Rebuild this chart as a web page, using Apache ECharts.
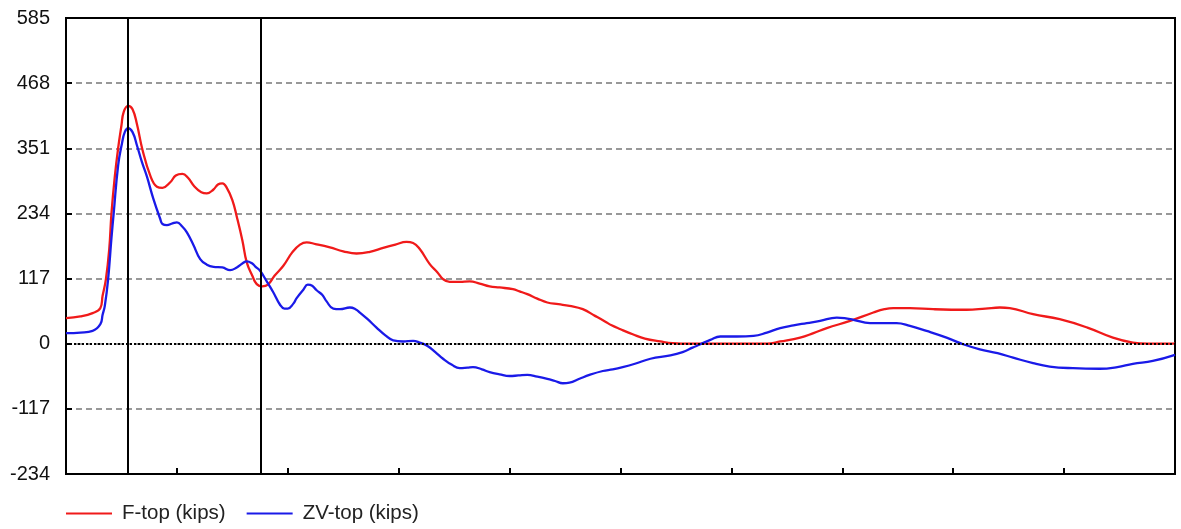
<!DOCTYPE html>
<html>
<head>
<meta charset="utf-8">
<title>F-top / ZV-top</title>
<script src="https://cdn.jsdelivr.net/npm/echarts@6/dist/echarts.min.js"></script>
<style>
  html, body { margin: 0; padding: 0; background: #fff; }
  #chart { width: 1181px; height: 529px; }
</style>
</head>
<body>
<div id="chart"></div>
<script>
// time axis in arbitrary units (0..100), values in kips
var fTime = [0, 1.3, 2.4, 3.1, 3.3, 3.6, 3.9, 4.1, 4.4, 4.7, 5.0, 5.2, 5.6, 6.0, 6.4, 6.9, 7.6, 8.2, 8.7, 9.4, 9.9,
  10.5, 11.0, 11.6, 12.2, 12.7, 13.3, 13.7, 14.1, 14.5, 15.0, 15.4, 15.9, 16.3, 16.8, 17.2, 17.7, 18.2, 18.8, 19.6,
  20.4, 21.1, 21.7, 22.5, 23.8, 25.0, 26.2, 27.4, 28.6, 29.7, 30.7, 31.3, 31.9, 32.8, 33.5, 34.0, 34.6, 35.5, 36.4,
  37.3, 38.2, 39.1, 40.3, 40.9, 41.6, 42.5, 43.4, 44.4, 45.4, 46.6, 47.7, 48.6, 49.2, 50.0, 51.1, 52.2, 53.6, 54.7,
  56.3, 57.8, 59.9, 61.7, 63.2, 64.4, 66.2, 67.4, 68.6, 70.7, 72.8, 73.8, 74.6, 76.1, 78.2, 81.2, 82.9, 84.2, 85.1,
  87.2, 89.6, 92.1, 94.4, 96.2, 97.5, 100];
var fTop = [46, 49, 55, 64, 86, 116, 170, 234, 300, 351, 392, 416, 427, 421, 394, 348, 302, 282, 280, 290, 302,
  305, 298, 282, 272, 270, 277, 286, 288, 280, 258, 228, 186, 146, 122, 107, 103, 106, 122, 140,
  164, 178, 182, 179, 173, 166, 162, 165, 172, 178, 183, 181, 170, 143, 128, 116, 111, 111, 112,
  108, 103, 101, 98, 94, 89, 81, 74, 71, 68, 62, 50, 40, 33, 26, 17, 9, 4, 1,
  0, 0, 0, 0, 0, 4, 11, 19, 28, 41, 56, 62, 64, 64, 62, 61, 63, 65, 64,
  53, 44, 29, 11, 2, 0, 0];

var zvTime = [0, 1.3, 2.4, 3.1, 3.3, 3.5, 3.8, 4.1, 4.3, 4.7, 5.05, 5.3, 5.6, 6.0, 6.4, 6.85, 7.3, 7.85, 8.5, 8.7,
  9.1, 9.6, 10.0, 10.5, 10.9, 11.5, 12.1, 12.7, 13.3, 14.1, 14.8, 15.4, 15.9, 16.3, 16.8, 17.1, 17.5, 18.1, 18.7,
  19.3, 19.7, 20.0, 20.5, 20.8, 21.4, 21.8, 22.2, 22.6, 23.1, 23.5, 24.1, 24.7, 25.6, 26.1, 26.5, 27.2, 28.0, 28.8,
  29.5, 30.4, 31.3, 31.9, 32.6, 33.3, 34.0, 34.8, 35.5, 36.2, 36.7, 37.5, 38.2, 39.1, 40.0, 40.8, 41.6, 42.5, 43.4,
  44.1, 44.8, 45.4, 46.3, 47.2, 48.4, 49.3, 50.2, 51.3, 52.7, 54.5, 55.6, 56.5, 57.2, 58.1, 59.0, 60.5, 62.0, 63.2,
  64.4, 65.6, 66.8, 68.0, 69.5, 70.2, 71.0, 72.5, 74.9, 76.1, 77.6, 79.4, 80.9, 82.4, 84.0, 85.4, 87.2, 88.7, 90.8,
  93.2, 94.8, 96.2, 98.0, 100];
var zvTop = [19, 20, 23, 35, 52, 68, 116, 190, 234, 320, 360, 380, 387, 380, 356, 326, 300, 262, 224, 215,
  213, 216, 218, 210, 200, 177, 152, 142, 138, 137, 132, 137, 144, 148, 144, 138, 131, 112, 92,
  70, 63, 63, 72, 82, 97, 106, 104, 96, 88, 76, 63, 62, 65, 62, 56, 44, 29, 15,
  6, 4, 5, 2, -4, -15, -27, -38, -44, -43, -42, -46, -51, -55, -58, -57, -56, -59, -63,
  -67, -71, -70, -63, -56, -49, -46, -42, -36, -27, -21, -15, -7, -1, 7, 13, 13, 14, 20,
  28, 33, 37, 41, 47, 46, 43, 37, 37, 32, 23, 11, -1, -10, -17, -25, -35, -41, -44,
  -45, -42, -36, -31, -20];

var yTicks = [-234, -117, 0, 117, 234, 351, 468, 585];
var markerTimes = [5.6, 17.6];

function pairs(xs, ys) {
  return xs.map(function (x, i) { return [x, ys[i]]; });
}

var chart = echarts.init(document.getElementById('chart'));

var option = {
  animation: false,
  backgroundColor: '#ffffff',
  grid: {
    left: 66,
    right: 6,
    top: 18,
    bottom: 55,
    show: true,
    borderColor: '#000',
    borderWidth: 2
  },
  legend: {
    left: 66,
    top: 503,
    padding: 0,
    icon: 'rect',
    itemWidth: 46,
    itemHeight: 2,
    itemGap: 21,
    textStyle: {
      fontFamily: 'Liberation Sans, Arial, sans-serif',
      fontSize: 20.5,
      color: '#222',
      padding: [0, 0, 0, 5]
    },
    data: ['F-top (kips)', 'ZV-top (kips)']
  },
  xAxis: {
    type: 'value',
    min: 0,
    max: 100,
    interval: 10,
    axisLine: { onZero: false, lineStyle: { color: '#000', width: 2 } },
    axisTick: { inside: true, length: 6, lineStyle: { color: '#000', width: 2 } },
    axisLabel: { show: false },
    splitLine: { show: false }
  },
  yAxis: {
    type: 'value',
    min: yTicks[0],
    max: yTicks[yTicks.length - 1],
    interval: 117,
    axisLine: { show: true, lineStyle: { color: '#000', width: 2 } },
    axisTick: { show: true, inside: true, length: 6, lineStyle: { color: '#000', width: 2 } },
    axisLabel: {
      margin: 16,
      color: '#111',
      fontSize: 20,
      fontFamily: 'Liberation Sans, Arial, sans-serif'
    },
    splitLine: {
      show: true,
      showMinLine: false,
      showMaxLine: false,
      lineStyle: { color: '#777', type: [6, 4], width: 1.5 }
    }
  },
  series: [
    {
      name: 'F-top (kips)',
      type: 'line',
      data: pairs(fTime, fTop),
      symbol: 'none',
      smooth: 0.45,
      lineStyle: { color: '#f01a1a', width: 2.3 },
      itemStyle: { color: '#f01a1a' },
      z: 3,
      markLine: {
        silent: true,
        symbol: 'none',
        label: { show: false },
        animation: false,
        data: [
          { yAxis: 0, lineStyle: { color: '#000', type: 'dotted', width: 2 } }
        ].concat(markerTimes.map(function (t) {
          return { xAxis: t, lineStyle: { color: '#000', type: 'solid', width: 2 } };
        }))
      }
    },
    {
      name: 'ZV-top (kips)',
      type: 'line',
      data: pairs(zvTime, zvTop),
      symbol: 'none',
      smooth: 0.45,
      lineStyle: { color: '#1a1ae8', width: 2.3 },
      itemStyle: { color: '#1a1ae8' },
      z: 3
    }
  ]
};

chart.setOption(option);
window.addEventListener('resize', function () {
  chart.resize();
});
</script>
</body>
</html>
